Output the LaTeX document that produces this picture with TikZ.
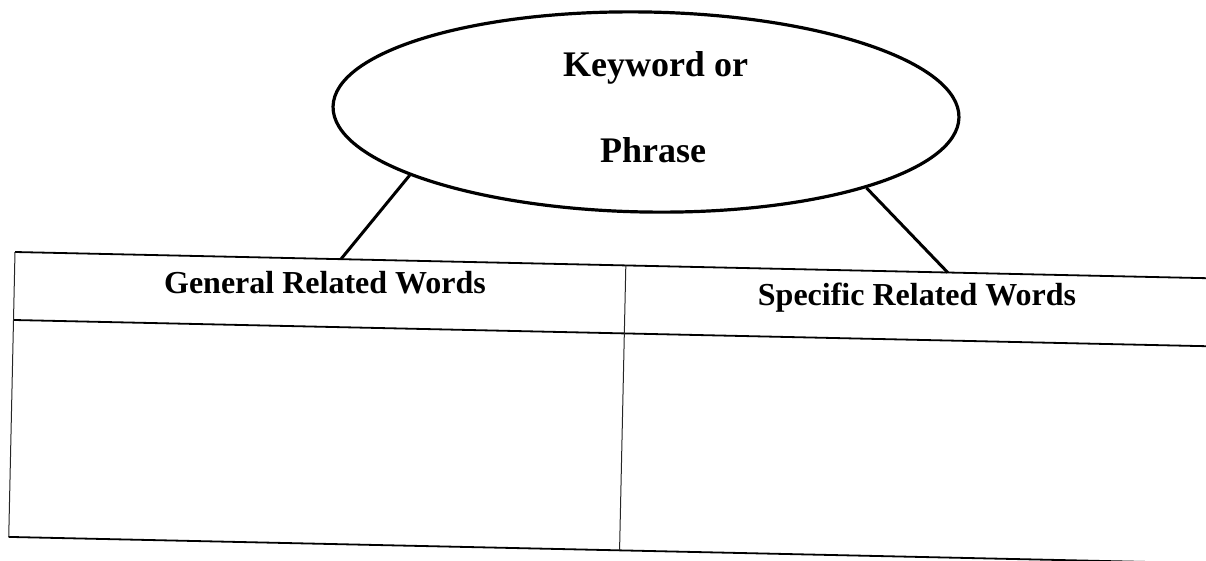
\documentclass[tikz,border=0pt]{standalone}
\usepackage{fontspec}
\setmainfont{Liberation Serif}
\usetikzlibrary{shapes.geometric}
\begin{document}
\begin{tikzpicture}[x=1pt,y=1pt,
  bubble/.style={draw, ellipse, line width=3.2pt, minimum width=626pt, minimum height=200pt, inner sep=0pt},
  bubbletext/.style={anchor=base, inner sep=0pt, font=\fontsize{36}{40}\selectfont\bfseries},
  headtext/.style={anchor=base, inner sep=0pt, font=\fontsize{32}{38}\selectfont\bfseries},
  rule/.style={line width=1.8pt},
  thinrule/.style={line width=1pt, black!85},
  link/.style={line width=3pt}]
\useasboundingbox (0,0) rectangle (1206,-560);
\clip (0,0) rectangle (1206,-560);
% keyword ellipse
\node[bubble, rotate=-1] (kw) at (646,-112) {};
\node[bubbletext] (t1) at (655.5,-76) {Keyword or};
\node[bubbletext] (t2) at (653,-162) {Phrase};
% table (scanned slightly rotated)
\begin{scope}[shift={(15,-252)}, rotate=-1.26]
  \coordinate (tl) at (0,0);
  \coordinate (tr) at (1240,0);
  \coordinate (hl) at (0,-68);
  \coordinate (hr) at (1240,-68);
  \coordinate (bl) at (0,-285);
  \coordinate (br) at (1240,-285);
  \coordinate (dt) at (611,0);
  \coordinate (db) at (611,-285);
  \coordinate (c1) at (326,0);
  \coordinate (c2) at (933,0);
\end{scope}
\node[headtext] (g) at (325,-293) {General Related Words};
\node[headtext] (s) at (917,-305) {Specific Related Words};
\draw[rule] (tl) -- (tr);
\draw[rule] (hl) -- (hr);
\draw[rule] (bl) -- (br);
\draw[thinrule] (tl) -- (bl);
\draw[thinrule] (dt) -- (db);
% connectors
\draw[link] (kw.196) -- (c1);
\draw[link] (kw.342) -- (c2);
\end{tikzpicture}
\end{document}
